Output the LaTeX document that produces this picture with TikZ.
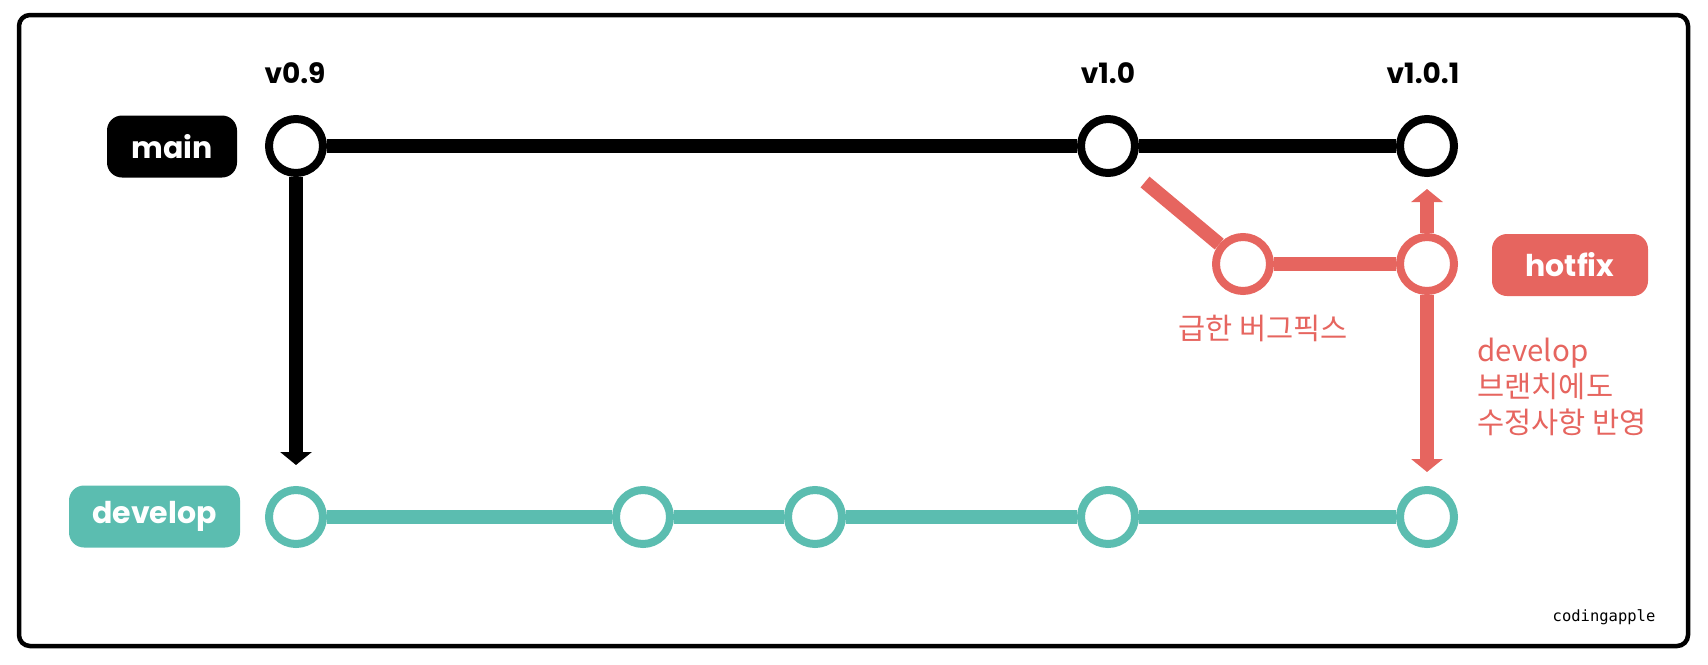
\documentclass[tikz,border=0pt]{standalone}
\usepackage{fontspec}
\usetikzlibrary{arrows.meta}
\newfontfamily\pop{Poppins}
\newfontfamily\kr{Noto Sans CJK KR}
\newfontfamily\mono{DejaVu Sans Mono}
\definecolor{teal}{RGB}{91,189,176}
\definecolor{hred}{RGB}{230,101,95}
\tikzset{
  commit/.style={circle, minimum size=54pt, inner sep=0pt, line width=8pt, fill=white, draw=#1},
  branch/.style={line width=14pt, draw=#1},
  tip/.style={-{Triangle[width=31pt,length=13pt]}},
  blabel/.style={rounded corners=15pt, minimum height=62pt, inner sep=0pt, text=white, fill=#1, font=\pop\bfseries\fontsize{30}{36}\selectfont},
  ver/.style={font=\pop\bfseries\fontsize{28}{34}\selectfont},
  rtext/.style={text=hred, font=\kr\fontsize{29.5}{36}\selectfont}
}
\begin{document}
\begin{tikzpicture}[x=1pt,y=-1pt]
\useasboundingbox (0,0) rectangle (1708,664);
\draw[line width=4.5pt, rounded corners=11pt] (19,15) rectangle (1688,646);

% commits
\node[commit=black] (m1) at (296,146) {};
\node[commit=black] (m2) at (1108,146) {};
\node[commit=black] (m3) at (1427,146) {};
\node[commit=hred] (h1) at (1243,264) {};
\node[commit=hred] (h2) at (1427,264) {};
\node[commit=teal] (d1) at (296,517) {};
\node[commit=teal] (d2) at (643,517) {};
\node[commit=teal] (d3) at (815,517) {};
\node[commit=teal] (d4) at (1108,517) {};
\node[commit=teal] (d5) at (1427,517) {};

\coordinate (mdown) at (296,465);
\coordinate (hstart) at (1145,182);
\coordinate (hup) at (1427,189);
\coordinate (hdown) at (1427,472);

% connectors
\draw[branch=black] (m1) -- (m2);
\draw[branch=black] (m2) -- (m3);
\draw[branch=black, tip] (m1) -- (mdown);
\draw[branch=teal] (d1) -- (d2);
\draw[branch=teal] (d2) -- (d3);
\draw[branch=teal] (d3) -- (d4);
\draw[branch=teal] (d4) -- (d5);
\draw[branch=hred] (hstart) -- (h1);
\draw[branch=hred] (h1) -- (h2);
\draw[branch=hred, tip] (h2) -- (hup);
\draw[branch=hred, tip] (h2) -- (hdown);

% branch labels
\node[blabel=black, minimum width=130pt] (lmain) at (172,146.5) {main};
\node[blabel=teal, minimum width=171pt] (ldev) at (154.5,516.5) {develop};
\node[blabel=hred, minimum width=156pt] (lhot) at (1570,265) {hotfix};

% version labels
\node[ver] (v09) at (295,73) {v0.9};
\node[ver] (v10) at (1108,73) {v1.0};
\node[ver] (v101) at (1423,73) {v1.0.1};

% red notes
\node[rtext] (n1) at (1263,328) {급한 버그픽스};
\node[rtext, align=left, anchor=west] (n2) at (1474,387) {develop\\브랜치에도\\수정사항 반영};

\node[font=\mono\fontsize{15.5}{18}\selectfont] (brand) at (1604,617) {codingapple};
\end{tikzpicture}
\end{document}
